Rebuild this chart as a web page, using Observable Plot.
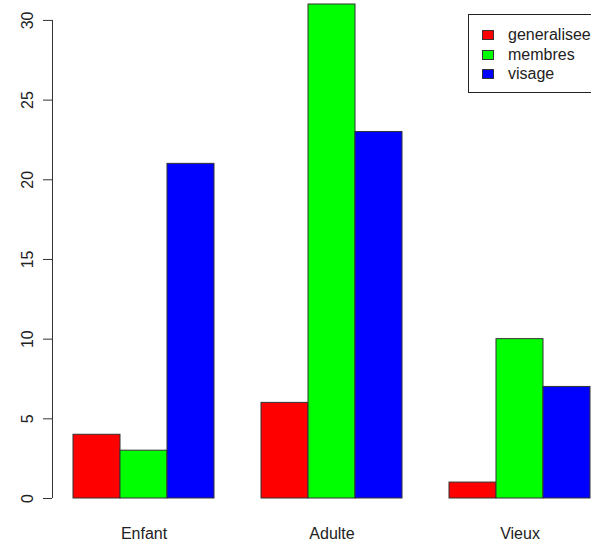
<!DOCTYPE html>
<html>
<head>
<meta charset="utf-8">
<script src="https://cdn.jsdelivr.net/npm/d3@7"></script>
<script src="https://cdn.jsdelivr.net/npm/@observablehq/plot@0.6"></script>
<style>
  html, body { margin: 0; padding: 0; background: #fff; overflow: hidden; }
  #wrap { position: relative; width: 591px; height: 543px; overflow: hidden; font-family: "Liberation Sans", Arial, sans-serif; }
  #legend { position: absolute; left: 468px; top: 14px; width: 160px; height: 79px; box-sizing: border-box;
            border: 1px solid #222; padding-top: 10px; }
  .row { height: 19.7px; display: flex; align-items: center; font-size: 16px; color: #222; }
  .sw { width: 12px; height: 10px; box-sizing: border-box; border: 1px solid #333; margin-left: 13px; margin-right: 14px; }
</style>
</head>
<body>
<div id="wrap"></div>
<script>
const groups = ["Enfant", "Adulte", "Vieux"];
const series = ["generalisee", "membres", "visage"];
const generalisee = [4, 6, 1];
const membres = [3, 31, 10];
const visage = [21, 23, 7];
const colors = ["#ff0000", "#00ff00", "#0000ff"];
const yTicks = [0, 5, 10, 15, 20, 25, 30];

const valuesBySeries = {generalisee, membres, visage};
const table = [];
groups.forEach((g, gi) => {
  series.forEach(s => table.push({group: g, series: s, value: valuesBySeries[s][gi]}));
});

const chart = Plot.plot({
  width: 591,
  height: 543,
  marginLeft: 73,
  marginRight: 1,
  marginTop: 4,
  marginBottom: 45,
  style: {fontFamily: "Liberation Sans, Arial, sans-serif", fontSize: "16px", background: "#fff"},
  fx: {domain: groups, paddingInner: 0.25, paddingOuter: 0, label: null, axis: null},
  x: {domain: series, padding: 0, axis: null},
  y: {domain: [0, 31], axis: null},
  color: {domain: series, range: colors},
  marks: [
    Plot.barY(table, {fx: "group", x: "series", y: "value", fill: "series", stroke: "#333", strokeWidth: 1}),
    Plot.axisFx({domain: groups, anchor: "bottom", tickSize: 0, tickPadding: 29, fontSize: 16, fill: "#222", label: null}),
    Plot.axisY({ticks: yTicks, tickSize: 9, tickRotate: -90, dx: -21, tickPadding: 11, fontSize: 16, stroke: "#333", fill: "#222", label: null}),
    Plot.ruleX([{group: groups[0], series: series[0]}], {fx: "group", x: "series", y1: d3.min(yTicks), y2: d3.max(yTicks), dx: -44.5, stroke: "#333"})
  ]
});
document.getElementById("wrap").appendChild(chart);

const legend = document.createElement("div");
legend.id = "legend";
series.forEach((s, i) => {
  const row = document.createElement("div");
  row.className = "row";
  const sw = document.createElement("span");
  sw.className = "sw";
  sw.style.background = colors[i];
  const label = document.createElement("span");
  label.textContent = s;
  row.appendChild(sw);
  row.appendChild(label);
  legend.appendChild(row);
});
document.getElementById("wrap").appendChild(legend);
</script>
</body>
</html>
